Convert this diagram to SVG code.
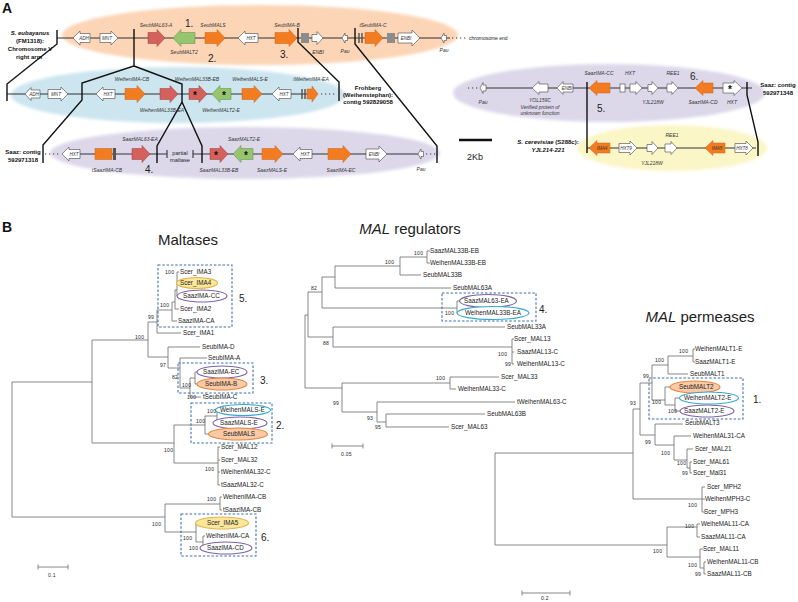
<svg xmlns="http://www.w3.org/2000/svg" width="798" height="602" viewBox="0 0 798 602">
<defs>
<filter id="soft" x="-5%" y="-20%" width="110%" height="140%"><feGaussianBlur stdDeviation="1.5"/></filter>
</defs>
<style>
text{font-family:"Liberation Sans",Arial,sans-serif;fill:#222}
.pl{font-size:14px;font-weight:bold;fill:#111}
.gl{font-size:5px;font-style:italic;text-anchor:middle;fill:#333}
.il{font-size:4.6px;font-style:italic;text-anchor:middle;fill:#333}
.bl{font-size:6px;font-weight:bold;text-anchor:middle;fill:#111}
.num{font-size:10px;fill:#222}
.star{font-size:10px;font-weight:bold;text-anchor:middle;fill:#111}
.ti{font-size:15px;text-anchor:middle;fill:#222}
.lf{font-size:6.3px;fill:#222}
.bs{font-size:5px;fill:#333;letter-spacing:0.3px}
.or{fill:#f47c20;stroke:#c8601a;stroke-width:0.5}
.rd{fill:#d4615c;stroke:#9e3d3a;stroke-width:0.5}
.gr{fill:#96c56f;stroke:#5e8b40;stroke-width:0.5}
.wh{fill:#fff;stroke:#444;stroke-width:0.6}
.gy{fill:#8c8c8c}
.chr{stroke:#333;stroke-width:1.1;fill:none}
.dot{stroke:#333;stroke-width:1.1;stroke-dasharray:1.2 2.8;fill:none}
.con{stroke:#111;stroke-width:1.4;fill:none}
.bar{stroke:#444;stroke-width:1.3}
.br{stroke:#6a6a6a;stroke-width:0.8;fill:none}
.box{fill:none;stroke:#3d6fae;stroke-width:1.1;stroke-dasharray:2.5 1.8}
.ep{fill:#fff;stroke:#7e62a8;stroke-width:1.1}
.ec{fill:#fff;stroke:#38a8cc;stroke-width:1.1}
.eo{fill:#f9caa5;stroke:#e8843c;stroke-width:1.1}
.ey{fill:#fbe79b;stroke:#e5b54a;stroke-width:1.1}
</style>

<!-- ============ PANEL A ============ -->
<text class="pl" x="2" y="13">A</text>
<g id="backgrounds" filter="url(#soft)">
<ellipse cx="260" cy="35" rx="198" ry="30" fill="#fbd5b6"/>
<ellipse cx="178" cy="95" rx="167" ry="28" fill="#cce5ef"/>
<ellipse cx="245" cy="153" rx="195" ry="26" fill="#dcd8ea"/>
<ellipse cx="609" cy="93" rx="156" ry="29" fill="#dcd8ea"/>
<ellipse cx="672" cy="148" rx="95" ry="23" fill="#fbf6c6"/>
</g>

<g id="connectors">
<line class="chr" x1="57" y1="38" x2="450" y2="38"/>
<line class="dot" x1="452" y1="38" x2="467" y2="38"/>
<line class="chr" x1="7" y1="94" x2="307" y2="94"/>
<line class="dot" x1="321" y1="94" x2="335" y2="94"/>
<line class="dot" x1="45" y1="154" x2="59" y2="154"/>
<line class="chr" x1="80" y1="154" x2="167" y2="154"/>
<line class="chr" x1="193" y1="154" x2="418" y2="154"/>
<line class="chr" x1="167" y1="150" x2="167" y2="158"/>
<line class="chr" x1="193" y1="150" x2="193" y2="158"/>
<line class="dot" x1="426" y1="154" x2="436" y2="154"/>
<line class="dot" x1="468" y1="88" x2="478" y2="88"/>
<line class="chr" x1="486" y1="88" x2="752" y2="88"/>
<line class="chr" x1="587" y1="148" x2="756" y2="148"/>
<polyline class="con" points="57,30 57,44 7,84 7,101"/>
<polyline class="con" points="134,29 134,66 82,83 82,100 43,145 43,163"/>
<polyline class="con" points="134,66 182,84 182,102 157,146 157,163"/>
<polyline class="con" points="182,102 202,146 202,163"/>
<polyline class="con" points="298,28 298,42 339,82 339,101"/>
<polyline class="con" points="355,28 355,44 437,146 437,163"/>
<polyline class="con" points="587,82 587,153"/>
<polyline class="con" points="747,82 747,95 758,142 758,156"/>
<line x1="459" y1="140" x2="492" y2="140" stroke="#111" stroke-width="2.6"/>
</g>

<g id="row1">
<text class="bl"><tspan x="30" y="35" font-style="italic">S. eubayanus</tspan><tspan x="30" y="43">(FM1318):</tspan><tspan x="30" y="51">Chromosome V</tspan><tspan x="29" y="59">right arm</tspan></text>
<g id="r1-adh"><polygon class="wh" points="73,38 80,31 80,33.5 90,33.5 90,42.5 80,42.5 80,45"/><text class="il" x="84" y="39.7">ADH</text></g>
<g id="r1-mnt"><polygon class="wh" points="100,33.5 111,33.5 111,31 118,38 111,45 111,42.5 100,42.5"/><text class="il" x="107" y="39.7">MNT</text></g>
<g id="r1-mal63a"><polygon class="rd" points="148,32.5 157,32.5 157,29.5 165,38 157,46.5 157,43.5 148,43.5"/><text class="gl" x="156" y="27">SeubMAL63-A</text></g>
<text class="num" x="185" y="27">1.</text>
<g id="r1-malt2"><polygon class="gr" points="173,38 181,29.5 181,32.5 195,32.5 195,43.5 181,43.5 181,46.5"/><text class="gl" x="184" y="54">SeubMALT2</text></g>
<g id="r1-mals"><polygon class="or" points="205,32.5 217,32.5 217,29.5 225,38 217,46.5 217,43.5 205,43.5"/><text class="gl" x="213" y="27">SeubMALS</text></g>
<text class="num" x="208" y="62">2.</text>
<g id="r1-hxt"><polygon class="wh" points="238,38 245,31 245,33.5 258,33.5 258,42.5 245,42.5 245,45"/><text class="il" x="251" y="39.7">HXT</text></g>
<g id="r1-imab"><polygon class="or" points="275,32.5 289,32.5 289,29.5 297,38 289,46.5 289,43.5 275,43.5"/><text class="gl" x="287" y="27">SeubIMA-B</text></g>
<text class="num" x="280" y="58">3.</text>
<rect class="gy" x="301" y="33" width="8" height="10"/>
<g id="r1-enbi1"><polygon class="wh" points="312,34.5 317,34.5 317,31.5 323,38 317,44.5 317,41.5 312,41.5"/><text class="gl" x="318" y="54">ENBI</text></g>
<g id="r1-pau1"><polygon class="wh" points="342,38 345,33 345,35.5 347.5,35.5 347.5,40.5 345,40.5 345,43"/><text class="gl" x="345" y="53">Pau</text></g>
<line class="bar" x1="359" y1="33" x2="359" y2="43"/><line class="bar" x1="362" y1="33" x2="362" y2="43"/>
<g id="r1-imac"><polygon class="or" points="365,32.5 375,32.5 375,29.5 383,38 375,46.5 375,43.5 365,43.5"/><text class="gl" x="373" y="27">tSeubIMA-C</text></g>
<rect class="gy" x="387" y="33" width="8" height="10"/>
<g id="r1-enbi2"><polygon class="wh" points="398,33 412,33 412,30 420,38 412,46 412,43 398,43"/><text class="il" x="406" y="39.7">ENBI</text></g>
<g id="r1-pau2"><polygon class="wh" points="441,38 444,33 444,35.5 446.5,35.5 446.5,40.5 444,40.5 444,43"/><text class="gl" x="444" y="52">Pau</text></g>
<text x="469" y="40" font-size="5" fill="#333">chromosome end</text>
</g>

<g id="row2">
<g id="r2-adh"><polygon class="wh" points="25,94 31,87.5 31,90 40,90 40,98 31,98 31,100.5"/><text class="il" x="34" y="95.6" font-size="4">ADH</text></g>
<g id="r2-mnt"><polygon class="wh" points="48,89.5 61,89.5 61,87 68,94 61,101 61,98.5 48,98.5"/><text class="il" x="56" y="95.7">MNT</text></g>
<g id="r2-hxt1"><polygon class="wh" points="96,94 103,87 103,89.5 115,89.5 115,98.5 103,98.5 103,101"/><text class="il" x="108" y="95.7">HXT</text></g>
<g id="r2-imacb"><polygon class="or" points="125,88.5 137,88.5 137,85.5 145,94 137,102.5 137,99.5 125,99.5"/><text class="gl" x="132" y="81">WeihenIMA-CB</text></g>
<g id="r2-mal33bea"><polygon class="rd" points="160,88.5 170,88.5 170,85.5 178,94 170,102.5 170,99.5 160,99.5"/><text class="gl" x="162" y="112">WeihenMAL33B-EA</text></g>
<g id="r2-mal33beb"><polygon class="rd" points="189,88.5 199,88.5 199,85.5 207,94 199,102.5 199,99.5 189,99.5"/><text class="star" x="195" y="99">*</text><text class="gl" x="197" y="81">WeihenMAL33B-EB</text></g>
<g id="r2-malt2e"><polygon class="gr" points="212,94 220,85.5 220,88.5 231,88.5 231,99.5 220,99.5 220,102.5"/><text class="star" x="224" y="99">*</text><text class="gl" x="221" y="112">WeihenMALT2-E</text></g>
<g id="r2-malse"><polygon class="or" points="242,88.5 254,88.5 254,85.5 262,94 254,102.5 254,99.5 242,99.5"/><text class="gl" x="250" y="81">WeihenMALS-E</text></g>
<g id="r2-hxt2"><polygon class="wh" points="272,94 279,87 279,89.5 291,89.5 291,98.5 279,98.5 279,101"/><text class="il" x="284" y="95.7">HXT</text></g>
<line class="bar" x1="302" y1="89" x2="302" y2="99"/><line class="bar" x1="305" y1="89" x2="305" y2="99"/>
<g id="r2-imaea"><polygon class="or" points="307,89 312,89 312,86 318,94 312,102 312,99 307,99"/><text class="gl" x="311" y="81">tWeihenIMA-EA</text></g>
<text class="bl"><tspan x="368" y="90">Frohberg</tspan><tspan x="368" y="97">(Weihenstephan):</tspan><tspan x="368" y="104">contig 592829058</tspan></text>
</g>

<g id="row3">
<text class="bl"><tspan x="23" y="154">Saaz: contig</tspan><tspan x="23" y="162">592971318</tspan></text>
<g id="r3-hxt1"><polygon class="wh" points="62,154 69,147 69,149.5 80,149.5 80,158.5 69,158.5 69,161"/><text class="il" x="74" y="155.7">HXT</text></g>
<g id="r3-imacb"><rect class="or" x="95" y="148.5" width="17" height="11"/><rect x="113" y="148" width="3" height="12" fill="#555"/><text class="gl" x="107" y="172">tSaazIMA-CB</text></g>
<g id="r3-mal63ea"><polygon class="rd" points="132,148.5 142,148.5 142,145.5 150,154 142,162.5 142,159.5 132,159.5"/><text class="gl" x="140" y="141">SaazMAL63-EA</text></g>
<text class="num" x="145" y="173">4.</text>
<text x="180" y="155" font-size="5.7" text-anchor="middle" fill="#222">partial</text>
<text x="180" y="162" font-size="5.7" text-anchor="middle" fill="#222">maltase</text>
<g id="r3-mal33beb"><polygon class="rd" points="210,148.5 220,148.5 220,145.5 228,154 220,162.5 220,159.5 210,159.5"/><text class="star" x="216" y="159">*</text><text class="gl" x="219" y="172">SaazMAL33B-EB</text></g>
<g id="r3-malt2e"><polygon class="gr" points="233,154 241,145.5 241,148.5 253,148.5 253,159.5 241,159.5 241,162.5"/><text class="star" x="246" y="159">*</text><text class="gl" x="244" y="141">SaazMALT2-E</text></g>
<g id="r3-malse"><polygon class="or" points="262,148.5 275,148.5 275,145.5 283,154 275,162.5 275,159.5 262,159.5"/><text class="gl" x="272" y="172">SaazMALS-E</text></g>
<g id="r3-hxt2"><polygon class="wh" points="293,154 300,147 300,149.5 312,149.5 312,158.5 300,158.5 300,161"/><text class="il" x="305" y="155.7">HXT</text></g>
<g id="r3-imaec"><polygon class="or" points="328,148.5 343,148.5 343,145.5 351,154 343,162.5 343,159.5 328,159.5"/><text class="gl" x="341" y="172">SaazIMA-EC</text></g>
<g id="r3-enbi"><polygon class="wh" points="366,149 379,149 379,146 387,154 379,162 379,159 366,159"/><text class="il" x="374" y="155.7">ENBI</text></g>
<g id="r3-pau"><polygon class="wh" points="418,154 421,149 421,151.5 423.5,151.5 423.5,156.5 421,156.5 421,159"/><text class="gl" x="421" y="171">Pau</text></g>
</g>

<g id="rowR1">
<g id="rr1-pau"><polygon class="wh" points="480,88 483,82.5 483,85 486,85 486,91 483,91 483,93.5"/><text class="gl" x="483" y="104">Pau</text></g>
<g id="rr1-yol"><polygon class="wh" points="532,88 539,81.5 539,84 548,84 548,92 539,92 539,94.5"/><text class="gl" x="540" y="102" font-style="normal">YOL159C</text><text class="gl" x="540" y="109" font-style="normal">Verified protein of</text><text class="gl" x="540" y="115" font-style="normal">unknown function</text></g>
<g id="rr1-enbi"><polygon class="wh" points="557,88 563,81.5 563,84 573,84 573,92 563,92 563,94.5"/><text class="il" x="567" y="89.6" font-size="4">ENBI</text></g>
<g id="rr1-imacc"><polygon class="or" points="589,88 597,80.5 597,83 610,83 610,93 597,93 597,95.5"/><text class="gl" x="599" y="75">SaazIMA-CC</text></g>
<text class="num" x="597" y="112">5.</text>
<g id="rr1-hxt"><rect class="wh" x="620" y="84" width="5" height="8"/><polygon class="wh" points="630,84 636,84 636,81.5 642,88 636,94.5 636,92 630,92"/><text class="gl" x="630" y="75">HXT</text></g>
<g id="rr1-yjl"><polygon class="wh" points="648,84.5 652,84.5 652,81.5 658,88 652,94.5 652,91.5 648,91.5"/><text class="gl" x="653" y="104">YJL218W</text></g>
<g id="rr1-ree1"><polygon class="wh" points="667,84 672,84 672,81.5 678,88 672,94.5 672,92 667,92"/><text class="gl" x="673" y="75">REE1</text></g>
<text class="num" x="690" y="80">6.</text>
<g id="rr1-imacd"><polygon class="or" points="695,88 703,80.5 703,83 713,83 713,93 703,93 703,95.5"/><text class="gl" x="703" y="104">SaazIMA-CD</text></g>
<g id="rr1-hxt2"><polygon class="wh" points="723,83 734,83 734,80.5 742,88 734,95.5 734,93 723,93"/><text class="star" x="730" y="93">*</text><text class="gl" x="732" y="104">HXT</text></g>
<text class="bl"><tspan x="778" y="87">Saaz: contig</tspan><tspan x="778" y="95">592971348</tspan></text>
</g>

<g id="rowR2">
<text class="bl"><tspan x="548" y="144"><tspan font-style="italic">S. cerevisiae</tspan> (S288c):</tspan><tspan x="548" y="152" font-style="italic">YJL214-221</tspan></text>
<g id="rr2-ima4"><polygon class="or" points="589,148 597,140.5 597,143 610,143 610,153 597,153 597,155.5"/><text class="il" x="602" y="149.7">IMA4</text></g>
<g id="rr2-hxt9"><polygon class="wh" points="619,143.5 630,143.5 630,141 637,148 630,155 630,152.5 619,152.5"/><text class="il" x="626" y="149.7">HXT9</text></g>
<g id="rr2-yjl"><polygon class="wh" points="647,144.5 652,144.5 652,141.5 658,148 652,154.5 652,151.5 647,151.5"/><text class="gl" x="652" y="165">YJL218W</text></g>
<g id="rr2-ree1"><polygon class="wh" points="665,144 671,144 671,141.5 677,148 671,154.5 671,152 665,152"/><text class="gl" x="672" y="137">REE1</text></g>
<g id="rr2-ima5"><polygon class="or" points="705,148 713,140.5 713,143 725,143 725,153 713,153 713,155.5"/><text class="il" x="717" y="149.7">IMA5</text></g>
<g id="rr2-hxt8"><polygon class="wh" points="735,143.5 746,143.5 746,141 753,148 746,155 746,152.5 735,152.5"/><text class="il" x="742" y="149.7">HXT8</text></g>
</g>
<text x="475" y="160" font-size="9" text-anchor="middle" fill="#222">2Kb</text>

<!-- ============ PANEL B ============ -->
<text class="pl" x="2" y="232">B</text>
<text class="ti" x="188" y="245">Maltases</text>
<text class="ti" x="410" y="234"><tspan font-style="italic">MAL</tspan> regulators</text>
<text class="ti" x="700" y="322"><tspan font-style="italic">MAL</tspan> permeases</text>

<g id="maltases">
<path class="br" d="M12,382V517M12,382H92M12,517H165
M92,340V443M92,340H148M92,443H174
M148,322V357M148,322H157M148,357H168
M157,310V333M157,310H172M157,333H181
M172,302V321M172,302H175M172,321H177
M175,290V309M175,290H177M175,309H179
M177,272V296M177,272H179M177,283H179M177,296H179
M168,347V368M168,347H200M168,368H180
M180,358V388M180,358H207M180,388H190
M190,378V397M190,378H195M190,397H201
M195,372V384M195,372H199M195,384H199
M174,425V463M174,425H205M174,463H218
M205,416V434M205,416H217M205,434H210
M217,410V423M217,410H219M217,423H219
M218,447V485M218,447H220M218,460H220M218,472H220M218,485H220
M165,504V532M165,504H220M165,532H196
M220,497V510M220,497H222M220,510H222
M196,523V542M196,523H203M196,542H203
M203,536V548M203,536H205M203,548H205
M38,567H68M38,564.5V569.5M68,564.5V569.5"/>
<rect class="box" x="158" y="265" width="74" height="62"/>
<rect class="box" x="178" y="363" width="75" height="30"/>
<rect class="box" x="191" y="403" width="81" height="40"/>
<rect class="box" x="181" y="514" width="75" height="42"/>
<ellipse class="ey" cx="197" cy="283" rx="20.5" ry="5.5"/>
<ellipse class="ep" cx="202" cy="296" rx="25" ry="6"/>
<ellipse class="ep" cx="222" cy="372" rx="25" ry="6"/>
<ellipse class="eo" cx="222" cy="384" rx="25" ry="6"/>
<ellipse class="ec" cx="243" cy="410" rx="27.5" ry="5.5"/>
<ellipse class="ep" cx="240" cy="423" rx="27" ry="6"/>
<ellipse class="eo" cx="238" cy="434" rx="29.5" ry="6"/>
<ellipse class="ey" cx="222" cy="523" rx="26.5" ry="6"/>
<ellipse class="ep" cx="226" cy="548" rx="26" ry="6"/>
<g class="lf">
<text x="180" y="274">Scer_IMA3</text>
<text x="180" y="285">Scer_IMA4</text>
<text x="183" y="298">SaazIMA-CC</text>
<text x="180" y="311">Scer_IMA2</text>
<text x="178" y="323">SaazIMA-CA</text>
<text x="183" y="335">Scer_IMA1</text>
<text x="202" y="349">SeubIMA-D</text>
<text x="208" y="360">SeubIMA-A</text>
<text x="203" y="374">SaazIMA-EC</text>
<text x="205" y="386">SeubIMA-B</text>
<text x="203" y="399">tSeubIMA-C</text>
<text x="220" y="412">WeihenMALS-E</text>
<text x="220" y="425">SaazMALS-E</text>
<text x="223" y="436">SeubMALS</text>
<text x="221" y="449">Scer_MAL12</text>
<text x="221" y="462">Scer_MAL32</text>
<text x="221" y="474">tWeihenMAL32-C</text>
<text x="221" y="487">tSaazMAL32-C</text>
<text x="223" y="499">WeihenIMA-CB</text>
<text x="223" y="512">tSaazIMA-CB</text>
<text x="207" y="525">Scer_IMA5</text>
<text x="206" y="538">WeihenIMA-CA</text>
<text x="207" y="550">SaazIMA-CD</text>
</g>
<g class="bs">
<text x="165" y="274">100</text>
<text x="160" y="307">100</text>
<text x="148" y="319">99</text>
<text x="135" y="339">100</text>
<text x="160" y="367">97</text>
<text x="172" y="379">82</text>
<text x="182" y="387">100</text>
<text x="187" y="399">100</text>
<text x="207" y="413">100</text>
<text x="196" y="423">100</text>
<text x="164" y="452">100</text>
<text x="205" y="471">100</text>
<text x="207" y="501">100</text>
<text x="152" y="526">100</text>
<text x="183" y="540">100</text>
<text x="189" y="550">100</text>
<text x="48" y="577">0.1</text>
</g>
<text class="num" x="239" y="302">5.</text>
<text class="num" x="260" y="384">3.</text>
<text class="num" x="276" y="429">2.</text>
<text class="num" x="261" y="541">6.</text>
</g>

<g id="regulators">
<path class="br" d="M427,251V263M427,251H430M427,263H430
M400,257V275M400,257H427M400,275H421
M335,266V288M335,266H400M335,288H451
M322,277V308M322,277H335M322,308H457
M457,301V313M457,301H461M457,313H461
M308,292V337M308,292H322M308,337H333
M305,315V388M305,315H308M305,388H342
M333,327V347M333,327H505M333,347H512
M512,339V364M512,339H514M512,352H514M512,364H514
M342,383V412M342,383H450M342,412H377
M450,377V389M450,377H499M450,389H456
M377,402V422M377,402H515M377,422H386
M386,414V427M386,414H485M386,427H449
M332,446H363M332,443.5V448.5M363,443.5V448.5"/>
<rect class="box" x="442" y="293" width="94" height="28"/>
<ellipse class="ep" cx="488" cy="301" rx="28.5" ry="6.5"/>
<ellipse class="ec" cx="493" cy="313" rx="36" ry="6.5"/>
<g class="lf">
<text x="430" y="253">SaazMAL33B-EB</text>
<text x="430" y="265">WeihenMAL33B-EB</text>
<text x="423" y="277">SeubMAL33B</text>
<text x="453" y="290">SeubMAL63A</text>
<text x="464" y="303">SaazMAL63-EA</text>
<text x="465" y="315">WeihenMAL33B-EA</text>
<text x="507" y="329">SeubMAL33A</text>
<text x="514" y="341">Scer_MAL13</text>
<text x="517" y="354">SaazMAL13-C</text>
<text x="517" y="366">WeihenMAL13-C</text>
<text x="501" y="379">Scer_MAL33</text>
<text x="458" y="391">WeihenMAL33-C</text>
<text x="517" y="404">tWeihenMAL63-C</text>
<text x="487" y="416">SeubMAL63B</text>
<text x="451" y="429">Scer_MAL63</text>
</g>
<g class="bs">
<text x="414" y="255">100</text>
<text x="385" y="264">100</text>
<text x="311" y="290">82</text>
<text x="445" y="315">100</text>
<text x="323" y="345">88</text>
<text x="498" y="356">100</text>
<text x="505" y="366">99</text>
<text x="436" y="380">100</text>
<text x="333" y="405">99</text>
<text x="367" y="420">93</text>
<text x="375" y="429">95</text>
<text x="341" y="456">0.05</text>
</g>
<text class="num" x="539" y="313">4.</text>
</g>

<g id="permeases">
<path class="br" d="M495,453V545M495,453H633M495,545H667
M633,409V499M633,409H640M633,499H702
M640,383V435M640,383H652M640,435H655
M652,365V400M652,365H668M652,400H665
M668,356V374M668,356H693M668,374H688
M693,349V362M693,349H695M693,362H695
M665,387V405M665,387H672M665,405H675
M675,398V411M675,398H681M675,411H681
M655,424V445M655,424H683M655,445H674
M674,436V460M674,436H691M674,460H687
M687,449V468M687,449H693M687,468H690
M690,462V473M690,462H692M690,473H692
M702,487V512M702,487H705M702,499H705M702,512H705
M667,527V557M667,527H697M667,557H700
M697,524V537M697,524H700M697,537H700
M700,549V568M700,549H703M700,568H704
M704,562V574M704,562H706M704,574H706
M522,593H570M522,590.5V595.5M570,590.5V595.5"/>
<rect class="box" x="649" y="378" width="94" height="41"/>
<ellipse class="eo" cx="695" cy="387" rx="25" ry="6"/>
<ellipse class="ec" cx="709" cy="398" rx="29.5" ry="6"/>
<ellipse class="ep" cx="707" cy="411" rx="27" ry="6"/>
<g class="lf">
<text x="695" y="351">WeihenMALT1-E</text>
<text x="695" y="364">SaazMALT1-E</text>
<text x="690" y="376">SeubMALT1</text>
<text x="679" y="389">SeubMALT2</text>
<text x="684" y="400">WeihenMALT2-E</text>
<text x="684" y="413">SaazMALT2-E</text>
<text x="685" y="425">SeubMALT3</text>
<text x="693" y="438">WeihenMAL31-CA</text>
<text x="695" y="451">Scer_MAL21</text>
<text x="693" y="464">Scer_MAL61</text>
<text x="693" y="475">Scer_Mal31</text>
<text x="707" y="489">Scer_MPH2</text>
<text x="705" y="501">WeihenMPH3-C</text>
<text x="704" y="514">Scer_MPH3</text>
<text x="701" y="526">WeiheMAL11-CA</text>
<text x="701" y="539">SaazMAL11-CA</text>
<text x="703" y="551">Scer_MAL11</text>
<text x="707" y="564">WeihenMAL11-CB</text>
<text x="707" y="576">SaazMAL11-CB</text>
</g>
<g class="bs">
<text x="679" y="353">100</text>
<text x="655" y="362">100</text>
<text x="643" y="378">99</text>
<text x="630" y="405">93</text>
<text x="652" y="404">100</text>
<text x="668" y="413">100</text>
<text x="645" y="444">99</text>
<text x="661" y="455">100</text>
<text x="677" y="465">100</text>
<text x="682" y="475">99</text>
<text x="688" y="507">100</text>
<text x="685" y="528">100</text>
<text x="653" y="553">100</text>
<text x="688" y="567">100</text>
<text x="695" y="576">99</text>
<text x="541" y="600">0.2</text>
</g>
<text class="num" x="753" y="403">1.</text>
</g>
</svg>
